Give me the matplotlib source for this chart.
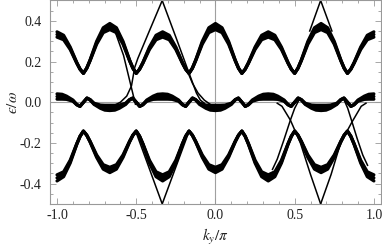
import matplotlib
matplotlib.use('Agg')
import matplotlib.pyplot as plt
from matplotlib.ticker import MultipleLocator, FormatStrFormatter
import numpy as np

plt.rcParams['font.family'] = ['Liberation Serif', 'DejaVu Serif']
plt.rcParams['mathtext.fontset'] = 'stix'

# --- quasienergy bands (centre value and half width) ---
k_band = [-1.0, -0.9583, -0.9167, -0.875, -0.8542, -0.8333, -0.8125, -0.7917, -0.75, -0.7083,
          -0.6667, -0.625, -0.5833, -0.5417, -0.5208, -0.5, -0.4792, -0.4583, -0.4167, -0.375,
          -0.3333, -0.2917, -0.25, -0.2083, -0.1875, -0.1667, -0.1458, -0.125, -0.0833, -0.0417,
          0.0, 0.0417, 0.0833, 0.125, 0.1458, 0.1667, 0.1875, 0.2083, 0.25, 0.2917,
          0.3333, 0.375, 0.4167, 0.4583, 0.4792, 0.5, 0.5208, 0.5417, 0.5833, 0.625,
          0.6667, 0.7083, 0.75, 0.7917, 0.8125, 0.8333, 0.8542, 0.875, 0.9167, 0.9583,
          1.0]

upper_c = [0.333, 0.318, 0.265, 0.193, 0.162, 0.142, 0.167, 0.205, 0.292, 0.354,
           0.372, 0.354, 0.292, 0.205, 0.167, 0.142, 0.162, 0.193, 0.265, 0.318,
           0.333, 0.318, 0.265, 0.193, 0.162, 0.142, 0.167, 0.205, 0.292, 0.354,
           0.372, 0.354, 0.292, 0.205, 0.167, 0.142, 0.162, 0.193, 0.265, 0.318,
           0.333, 0.318, 0.265, 0.193, 0.162, 0.142, 0.167, 0.205, 0.292, 0.354,
           0.372, 0.354, 0.292, 0.205, 0.167, 0.142, 0.162, 0.193, 0.265, 0.318,
           0.333]
upper_w = [0.013, 0.011, 0.006, 0.002, 0.001, 0.0, 0.001, 0.002, 0.007, 0.012,
           0.015, 0.012, 0.007, 0.002, 0.001, 0.0, 0.001, 0.002, 0.006, 0.011,
           0.013, 0.011, 0.006, 0.002, 0.001, 0.0, 0.001, 0.002, 0.007, 0.012,
           0.015, 0.012, 0.007, 0.002, 0.001, 0.0, 0.001, 0.002, 0.006, 0.011,
           0.013, 0.011, 0.006, 0.002, 0.001, 0.0, 0.001, 0.002, 0.007, 0.012,
           0.015, 0.012, 0.007, 0.002, 0.001, 0.0, 0.001, 0.002, 0.006, 0.011,
           0.013]

lower_c = [-0.372, -0.354, -0.292, -0.205, -0.167, -0.142, -0.162, -0.193, -0.265, -0.318,
           -0.333, -0.318, -0.265, -0.193, -0.162, -0.142, -0.167, -0.205, -0.292, -0.354,
           -0.372, -0.354, -0.292, -0.205, -0.167, -0.142, -0.162, -0.193, -0.265, -0.318,
           -0.333, -0.318, -0.265, -0.193, -0.162, -0.142, -0.167, -0.205, -0.292, -0.354,
           -0.372, -0.354, -0.292, -0.205, -0.167, -0.142, -0.162, -0.193, -0.265, -0.318,
           -0.333, -0.318, -0.265, -0.193, -0.162, -0.142, -0.167, -0.205, -0.292, -0.354,
           -0.372]
lower_w = [0.015, 0.012, 0.007, 0.002, 0.001, 0.0, 0.001, 0.002, 0.006, 0.011,
           0.013, 0.011, 0.006, 0.002, 0.001, 0.0, 0.001, 0.002, 0.007, 0.012,
           0.015, 0.012, 0.007, 0.002, 0.001, 0.0, 0.001, 0.002, 0.006, 0.011,
           0.013, 0.011, 0.006, 0.002, 0.001, 0.0, 0.001, 0.002, 0.007, 0.012,
           0.015, 0.012, 0.007, 0.002, 0.001, 0.0, 0.001, 0.002, 0.006, 0.011,
           0.013, 0.011, 0.006, 0.002, 0.001, 0.0, 0.001, 0.002, 0.007, 0.012,
           0.015]

k_mid = [-1.0, -0.968, -0.94, -0.9, -0.875, -0.855, -0.833, -0.811, -0.791, -0.766, -0.726, -0.698,
         -0.667, -0.635, -0.607, -0.567, -0.542, -0.522, -0.5, -0.478, -0.458, -0.433, -0.393, -0.365,
         -0.333, -0.302, -0.273, -0.233, -0.208, -0.188, -0.167, -0.145, -0.125, -0.1, -0.06, -0.032,
         0.0, 0.032, 0.06, 0.1, 0.125, 0.145, 0.167, 0.188, 0.208, 0.233, 0.273, 0.302,
         0.333, 0.365, 0.393, 0.433, 0.458, 0.478, 0.5, 0.522, 0.542, 0.567, 0.607, 0.635,
         0.667, 0.698, 0.726, 0.766, 0.791, 0.811, 0.833, 0.855, 0.875, 0.9, 0.94, 0.968,
         1.0]
mid_c = [0.028, 0.027, 0.022, 0.008, -0.012, -0.020, 0.0, 0.020, 0.012, -0.008, -0.022, -0.027,
         -0.028, -0.027, -0.022, -0.008, 0.012, 0.020, 0.0, -0.020, -0.012, 0.008, 0.022, 0.027,
         0.028, 0.027, 0.022, 0.008, -0.012, -0.020, 0.0, 0.020, 0.012, -0.008, -0.022, -0.027,
         -0.028, -0.027, -0.022, -0.008, 0.012, 0.020, 0.0, -0.020, -0.012, 0.008, 0.022, 0.027,
         0.028, 0.027, 0.022, 0.008, -0.012, -0.020, 0.0, 0.020, 0.012, -0.008, -0.022, -0.027,
         -0.028, -0.027, -0.022, -0.008, 0.012, 0.020, 0.0, -0.020, -0.012, 0.008, 0.022, 0.027,
         0.028]
mid_w = [0.013, 0.012, 0.008, 0.003, 0.001, 0.001, 0.0, 0.001, 0.001, 0.003, 0.008, 0.012] * 6 + [0.013]

# --- edge-state branches (k, eps) ---
edge_states = [
    ([-0.336, -0.42, -0.49, -0.51, -0.53, -0.56, -0.60, -0.63],
     [0.5, 0.345, 0.215, 0.17, 0.08, 0.03, 0.0, -0.012]),
    ([-0.336, -0.25, -0.17, -0.12, -0.095, -0.07],
     [0.5, 0.32, 0.15, 0.045, 0.01, -0.005]),
    ([-0.63, -0.58, -0.53, -0.505],
     [0.34, 0.23, 0.07, -0.01]),
    ([-0.19, -0.165, -0.145, -0.11, -0.07, -0.03],
     [0.17, 0.13, 0.093, 0.045, 0.01, -0.012]),
    ([-0.50, -0.336, -0.17],
     [-0.15, -0.5, -0.15]),
    ([0.595, 0.664, 0.735],
     [0.35, 0.5, 0.35]),
    ([0.664, 0.60, 0.536, 0.473, 0.42, 0.39],
     [-0.5, -0.355, -0.20, -0.088, -0.02, -0.005]),
    ([0.664, 0.73, 0.79, 0.862, 0.92, 0.95],
     [-0.5, -0.355, -0.20, -0.097, -0.02, -0.005]),
    ([0.53, 0.50, 0.473, 0.43, 0.39, 0.36],
     [0.015, -0.03, -0.088, -0.19, -0.28, -0.33]),
    ([0.81, 0.835, 0.862, 0.895, 0.93, 0.96],
     [0.015, -0.03, -0.097, -0.18, -0.26, -0.31]),
]

x_ticks = [-1.0, -0.5, 0.0, 0.5, 1.0]
y_ticks = [-0.4, -0.2, 0.0, 0.2, 0.4]


def draw_band(ax, k, c, w):
    c = np.array(c)
    w = np.array(w)
    ax.fill_between(k, c - w, c + w, color='black', lw=0)
    for edge in (c - w, c, c + w):
        ax.plot(k, edge, color='black', lw=2.3,
                solid_joinstyle='round', solid_capstyle='round')


def main():
    fig = plt.figure(figsize=(3.82, 2.46), dpi=100)
    ax = fig.add_axes([0.131, 0.171, 0.866, 0.827])

    # Mathematica-style axes through the origin
    ax.axhline(0, color='#a0a0a0', lw=0.8, zorder=0)
    ax.axvline(0, color='#a0a0a0', lw=0.8, zorder=0)

    draw_band(ax, k_band, upper_c, upper_w)
    draw_band(ax, k_band, lower_c, lower_w)
    draw_band(ax, k_mid, mid_c, mid_w)

    for ks, es in edge_states:
        ax.plot(ks, es, color='black', lw=1.1)

    ax.set_xlim(-1.044, 1.044)
    ax.set_ylim(-0.5, 0.5)
    ax.set_xticks(x_ticks)
    ax.set_yticks(y_ticks)
    ax.xaxis.set_minor_locator(MultipleLocator(0.1))
    ax.yaxis.set_minor_locator(MultipleLocator(0.05))
    ax.xaxis.set_major_formatter(FormatStrFormatter('%.1f'))
    ax.yaxis.set_major_formatter(FormatStrFormatter('%.1f'))

    for sp in ax.spines.values():
        sp.set_color('#999999')
        sp.set_linewidth(0.8)
    ax.tick_params(which='both', direction='in', top=True, right=True,
                   color='#999999', width=0.6, labelsize=10, labelcolor='#222222')
    ax.tick_params(which='major', length=4)
    ax.tick_params(axis='y', which='major', pad=6)
    ax.tick_params(axis='x', which='major', pad=4)
    ax.tick_params(which='minor', length=2)

    # frame labels placed like the original
    fig.text(0.034, 0.585, '$\u03f5/\\omega$', rotation=90, ha='center', va='center',
             fontsize=11, color='#222222')
    fig.text(0.563, 0.035, '$k_y/\\pi$', ha='center', va='center',
             fontsize=11, color='#222222')

    fig.savefig('out.png', dpi=100)


if __name__ == "__main__":
    main()
